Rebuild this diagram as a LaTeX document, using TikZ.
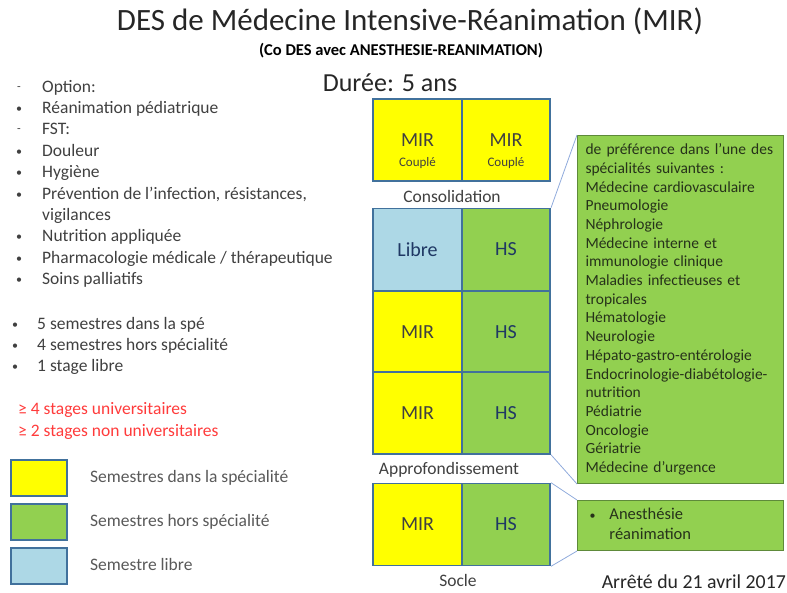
\documentclass[tikz,border=0pt]{standalone}
\usepackage{fontspec}
\setmainfont{Carlito}
\definecolor{mirYellow}{HTML}{FFFF00}
\definecolor{hsGreen}{HTML}{92D050}
\definecolor{libreBlue}{HTML}{ADD8E6}
\definecolor{cellBorder}{HTML}{41719C}
\definecolor{boxBorder}{HTML}{5E8A3A}
\definecolor{calloutLine}{HTML}{8FAADC}
\definecolor{greyText}{HTML}{404040}
\definecolor{legendText}{HTML}{595959}
\definecolor{navyText}{HTML}{1F3864}
\definecolor{boxText}{HTML}{26321A}
\definecolor{redText}{HTML}{FF3B3B}
\newcommand{\fs}[2]{\fontsize{#1}{#2}\selectfont}

\begin{document}
\begin{tikzpicture}
[x=1pt,y=-1pt,
  cellDecorate/.style={draw=cellBorder,line width=1.6pt,minimum width=88.5pt,minimum height=82pt,inner sep=0pt,font=\fs{20}{24}},
  mirCell/.style={cellDecorate,fill=mirYellow,text=greyText},
  hsCell/.style={cellDecorate,fill=hsGreen,text=navyText},
  libreCell/.style={cellDecorate,fill=libreBlue,text=navyText},
  coupleText/.style={font=\fs{13}{15},text=greyText,inner sep=0pt},
  phaseText/.style={font=\fs{17.5}{20},text=greyText,inner sep=0pt},
  listText/.style={anchor=west,font=\fs{17.5}{21},text=greyText,inner sep=0pt,text height=12pt,text depth=4pt},
  markText/.style={font=\fs{12}{14},text=greyText,inner sep=0pt},
  legendDecorate/.style={draw=cellBorder,line width=2pt,minimum width=56pt,minimum height=36pt,inner sep=0pt},
  listBox/.style={draw=boxBorder,line width=1pt,fill=hsGreen,anchor=north west,minimum width=206pt,
    text width=190pt,inner xsep=8pt,align=left,text=boxText},
  calloutDecorate/.style={-,draw=calloutLine,line width=0.8pt}]
\useasboundingbox (0,0) rectangle (787,593);

%% titles
\node (title) at (410,21) [font=\fs{31}{34},text=black!85,inner sep=0pt] {DES de Médecine Intensive-Réanimation (MIR)};
\node (subtitle) at (401,51) [font=\bfseries\fs{16.5}{19},inner sep=0pt] {(Co DES avec ANESTHESIE-REANIMATION)};
\node (duree) at (390,83) [font=\fs{26}{30},text=black!85,inner sep=0pt] {Durée: 5 ans};

%% left list
\foreach \y/\mark/\txt [count=\i] in {89/-/{Option:}, 110/•/{Réanimation pédiatrique}, 131/-/{FST:},
  153/•/{Douleur}, 174/•/{Hygiène}, 196/•/{Prévention de l'infection, résistances,},
  238/•/{Nutrition appliquée}, 260/•/{Pharmacologie médicale / thérapeutique}, 281/•/{Soins palliatifs}}
{
  \node (m\i) at (19,\y) [markText] {\mark};
  \node (l\i) at (42,\y) [listText] {\txt};
}
\node (l6b) at (42,217) [listText] {vigilances};

\foreach \y/\txt [count=\i] in {326/{5 semestres dans la spé}, 347/{4 semestres hors spécialité}, 368/{1 stage libre}}
{
  \node (n\i) at (15,\y) [markText] {•};
  \node (s\i) at (37,\y) [listText] {\txt};
}
\node (r1) at (18,410) [listText,text=redText] {≥ 4 stages universitaires};
\node (r2) at (18,432) [listText,text=redText] {≥ 2 stages non universitaires};

%% legend
\foreach \nodename/\y/\col/\txt in {legMir/478/mirYellow/{Semestres dans la spécialité},
  legHs/522/hsGreen/{Semestres hors spécialité}, legLibre/566/libreBlue/{Semestre libre}}
{
  \node (\nodename) at (39,\y) [legendDecorate,fill=\col] {};
  \node (\nodename Text) at (90,\y) [listText,font=\fs{17.5}{20},text=legendText] {\txt};
}

%% semesters
\foreach \nodename/\x/\y/\kind/\txt in {c1/417.5/140/mirCell/MIR, c2/506/140/mirCell/MIR,
  a1/417.5/249.5/libreCell/Libre, a2/506/249.5/hsCell/HS,
  b1/417.5/332/mirCell/MIR, b2/506/332/hsCell/HS,
  d1/417.5/413/mirCell/MIR, d2/506/413/hsCell/HS,
  s1/417.5/524.5/mirCell/MIR, s2/506/524.5/hsCell/HS}
{
  \node (\nodename) at (\x,\y) [\kind] {\txt};
}
\node (c1c) at ([yshift=-23pt]c1.center) [coupleText] {Couplé};
\node (c2c) at ([yshift=-23pt]c2.center) [coupleText] {Couplé};

\node (consLabel) at (452,196) [phaseText] {Consolidation};
\node (approLabel) at (449,470) [phaseText] {Approfondissement};
\node (socleLabel) at (458,580) [phaseText] {Socle};

%% specialty boxes
\node (hsList) at (577,135) [listBox,minimum height=348pt,font=\fs{15.5}{18.7}]
  {de préférence dans l'une des\\ spécialités suivantes :\\ Médecine cardiovasculaire\\ Pneumologie\\
   Néphrologie\\ Médecine interne et\\ immunologie clinique\\ Maladies infectieuses et\\ tropicales\\
   Hématologie\\ Neurologie\\ Hépato-gastro-entérologie\\ Endocrinologie-diabétologie-\\ nutrition\\
   Pédiatrie\\ Oncologie\\ Gériatrie\\ Médecine d'urgence};
\node (socleList) at (577,500) [listBox,minimum height=50pt,font=\fs{16.5}{20}]
  {\begin{tabular}{@{\hspace{4pt}}l@{\hspace{14pt}}l@{}}{\fs{12}{14}•} & Anesthésie\\ & réanimation\end{tabular}};

%% callout lines
\draw[calloutDecorate] (a2.north east) -- (hsList.north west);
\draw[calloutDecorate] (d2.south east) -- (hsList.south west);
\draw[calloutDecorate] (s2.north east) -- (socleList.north west);
\draw[calloutDecorate] (s2.south east) -- (socleList.south west);

\node (arrete) at (786,582) [anchor=east,font=\fs{19.8}{22},text=black!85,inner sep=0pt] {Arrêté du 21 avril 2017};
\end{tikzpicture}
\end{document}
